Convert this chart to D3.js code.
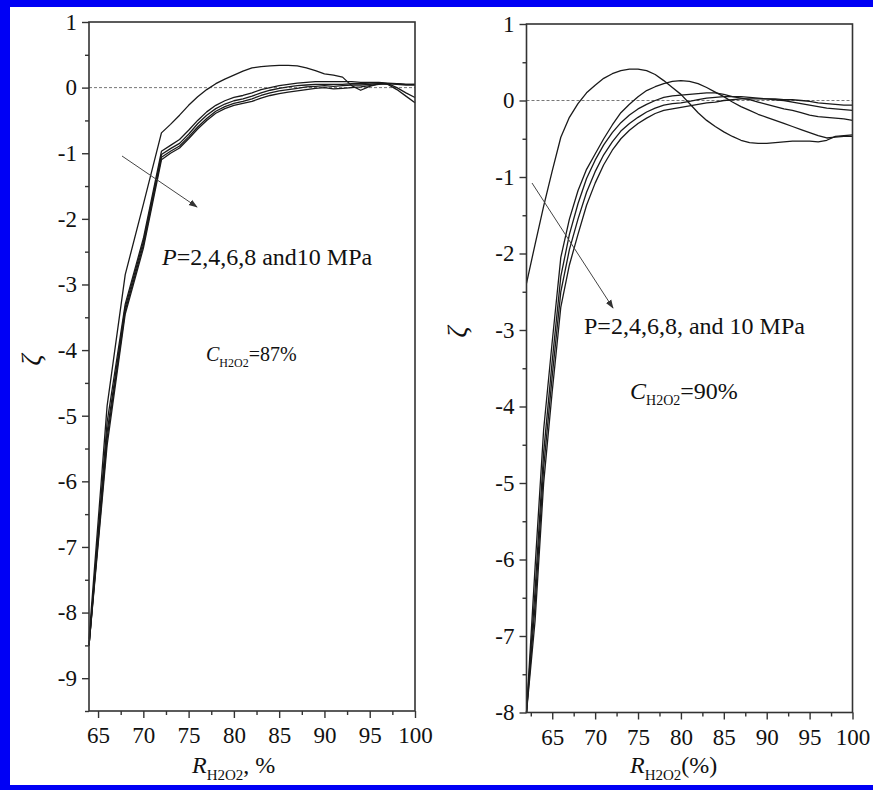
<!DOCTYPE html>
<html>
<head>
<meta charset="utf-8">
<script src="https://cdn.jsdelivr.net/npm/d3@7"></script>
<style>
body{margin:0;background:#fff;}
svg{display:block;}
.tick text{font-family:"Liberation Serif","Times New Roman",serif;font-size:23px;fill:#111;}
.note{font-family:"Liberation Serif","Times New Roman",serif;font-size:24px;fill:#111;}
</style>
</head>
<body>
<div id="chart"></div>
<script>
var W=873, H=790;

// left panel: C_H2O2 = 87 %
var xLeft=[64,66,68,70,72,73,74,75,76,77,78,79,80,81,82,83,84,85,86,87,88,89,90,91,92,93,94,95,96,97,98,99,100];
var left2MPa=[-8.4,-4.85,-2.85,-1.78,-0.69,-0.56,-0.42,-0.27,-0.14,-0.03,0.06,0.13,0.19,0.25,0.3,0.32,0.33,0.34,0.34,0.33,0.3,0.26,0.21,0.19,0.16,0.03,-0.04,0.02,0.06,0.06,0.05,0.04,0.04];
var left4MPa=[-8.5,-5.1,-3.3,-2.3,-0.97,-0.88,-0.79,-0.65,-0.5,-0.37,-0.27,-0.2,-0.15,-0.12,-0.08,-0.03,0.0,0.03,0.05,0.07,0.08,0.09,0.09,0.09,0.09,0.09,0.08,0.08,0.08,0.07,0.06,0.05,0.05];
var left6MPa=[-8.5,-5.25,-3.35,-2.35,-1.02,-0.93,-0.85,-0.71,-0.55,-0.42,-0.32,-0.25,-0.2,-0.17,-0.13,-0.08,-0.04,-0.01,0.01,0.03,0.04,0.05,0.05,0.05,0.05,0.06,0.06,0.07,0.07,0.06,0.0,-0.08,-0.15];
var left8MPa=[-8.5,-5.35,-3.4,-2.4,-1.06,-0.97,-0.89,-0.75,-0.6,-0.47,-0.36,-0.29,-0.24,-0.21,-0.17,-0.12,-0.08,-0.05,-0.03,-0.01,0.01,0.02,0.03,0.02,0.03,0.04,0.04,0.05,0.06,0.05,-0.03,-0.13,-0.23];
var left10MPa=[-8.5,-5.45,-3.45,-2.45,-1.1,-1.0,-0.92,-0.78,-0.63,-0.5,-0.39,-0.32,-0.27,-0.24,-0.21,-0.16,-0.12,-0.09,-0.07,-0.05,-0.03,-0.01,0.0,-0.02,-0.01,0.0,0.01,0.03,0.05,0.06,0.06,0.05,0.05];

// right panel: C_H2O2 = 90 %
var xRight=[62,63,64,65,66,67,68,69,70,71,72,73,74,75,76,77,78,79,80,81,82,83,84,85,86,87,88,89,90,91,92,93,94,95,96,97,98,99,100];
var right2MPa=[-2.39,-1.88,-1.38,-0.92,-0.48,-0.22,-0.04,0.1,0.2,0.29,0.35,0.39,0.41,0.41,0.39,0.34,0.26,0.17,0.08,-0.04,-0.16,-0.26,-0.34,-0.41,-0.47,-0.52,-0.55,-0.56,-0.56,-0.55,-0.54,-0.53,-0.53,-0.53,-0.54,-0.52,-0.47,-0.46,-0.45];
var right4MPa=[-8.0,-6.1,-4.3,-3.15,-2.05,-1.55,-1.18,-0.9,-0.7,-0.5,-0.32,-0.16,-0.05,0.05,0.13,0.18,0.22,0.25,0.26,0.25,0.22,0.17,0.11,0.05,-0.02,-0.08,-0.13,-0.18,-0.22,-0.26,-0.3,-0.34,-0.38,-0.42,-0.46,-0.49,-0.48,-0.47,-0.47];
var right6MPa=[-8.0,-6.4,-4.6,-3.4,-2.3,-1.75,-1.35,-1.02,-0.78,-0.58,-0.42,-0.29,-0.19,-0.11,-0.05,0.0,0.04,0.06,0.07,0.08,0.09,0.1,0.1,0.08,0.05,0.03,0.01,-0.02,-0.05,-0.08,-0.11,-0.13,-0.16,-0.19,-0.21,-0.22,-0.23,-0.24,-0.26];
var right8MPa=[-8.0,-6.6,-4.8,-3.6,-2.5,-1.95,-1.55,-1.2,-0.93,-0.71,-0.54,-0.4,-0.3,-0.22,-0.15,-0.1,-0.06,-0.04,-0.03,-0.01,0.01,0.03,0.04,0.05,0.05,0.05,0.04,0.03,0.02,0.01,0.0,-0.02,-0.04,-0.06,-0.08,-0.1,-0.11,-0.12,-0.13];
var right10MPa=[-8.0,-6.8,-5.0,-3.8,-2.7,-2.15,-1.75,-1.37,-1.08,-0.84,-0.65,-0.5,-0.39,-0.3,-0.23,-0.17,-0.13,-0.11,-0.09,-0.07,-0.05,-0.03,-0.02,0.0,0.01,0.02,0.02,0.02,0.02,0.02,0.01,0.01,0.0,-0.01,-0.03,-0.04,-0.05,-0.06,-0.06];

var xTicksLeft=[65,70,75,80,85,90,95,100];
var xMinorLeft=[67.5,72.5,77.5,82.5,87.5,92.5,97.5];
var yTicksLeft=[1,0,-1,-2,-3,-4,-5,-6,-7,-8,-9];
var yMinorLeft=[0.5,-0.5,-1.5,-2.5,-3.5,-4.5,-5.5,-6.5,-7.5,-8.5,-9.5];
var xTicksRight=[65,70,75,80,85,90,95,100];
var xMinorRight=[62.5,67.5,72.5,77.5,82.5,87.5,92.5,97.5];
var yTicksRight=[1,0,-1,-2,-3,-4,-5,-6,-7,-8];
var yMinorRight=[0.5,-0.5,-1.5,-2.5,-3.5,-4.5,-5.5,-6.5,-7.5];

var svg=d3.select("#chart").append("svg").attr("width",W).attr("height",H);

svg.append("defs").append("marker")
  .attr("id","arr").attr("viewBox","0 0 10 10").attr("refX",9).attr("refY",5)
  .attr("markerWidth",9).attr("markerHeight",9).attr("orient","auto")
  .attr("markerUnits","userSpaceOnUse")
  .append("path").attr("d","M0,1.5 L10,5 L0,8.5 Z").attr("fill","#333");

function drawPanel(p){
  var x=d3.scaleLinear().domain(p.xDom).range([p.x0,p.x1]);
  var y=d3.scaleLinear().domain(p.yDom).range([p.y1,p.y0]);
  var g=svg.append("g");

  // zero reference line
  g.append("line").attr("x1",x(p.xDom[0])).attr("x2",x(p.xDom[1]))
    .attr("y1",y(0)).attr("y2",y(0))
    .attr("stroke","#777").attr("stroke-width",1).attr("stroke-dasharray","3,2");

  var line=d3.line().x(function(d){return x(d[0]);}).y(function(d){return y(d[1]);});
  p.series.forEach(function(s){
    g.append("path").datum(p.xs.map(function(v,i){return [v,s[i]];}))
      .attr("d",line).attr("fill","none").attr("stroke","#1a1a1a")
      .attr("stroke-width",1.3).attr("stroke-linejoin","round");
  });

  // frame
  g.append("rect").attr("x",p.x0).attr("y",p.y0).attr("width",p.x1-p.x0).attr("height",p.y1-p.y0)
    .attr("fill","none").attr("stroke","#333").attr("stroke-width",1.6);

  g.append("g").attr("transform","translate(0,"+p.y1+")")
    .call(d3.axisBottom(x).tickValues(p.xt).tickSize(7).tickPadding(9).tickFormat(d3.format("d")));
  g.append("g").attr("transform","translate(0,"+p.y1+")")
    .call(d3.axisBottom(x).tickValues(p.xm).tickSize(4).tickFormat(""));
  g.append("g").attr("transform","translate("+p.x0+",0)")
    .call(d3.axisLeft(y).tickValues(p.yt).tickSize(7).tickPadding(5).tickFormat(function(d){return d<0?"-"+(-d):d;}));
  g.append("g").attr("transform","translate("+p.x0+",0)")
    .call(d3.axisLeft(y).tickValues(p.ym).tickSize(4).tickFormat(""));
  g.selectAll(".domain").remove();
  g.selectAll(".tick line").attr("stroke","#333").attr("stroke-width",1.4);

  // arrow
  g.append("line").attr("x1",p.arrow[0]).attr("y1",p.arrow[1]).attr("x2",p.arrow[2]).attr("y2",p.arrow[3])
    .attr("stroke","#444").attr("stroke-width",1).attr("marker-end","url(#arr)");

  // pressure note
  var t=g.append("text").attr("class","note").attr("x",p.pPos[0]).attr("y",p.pPos[1]);
  if(p.italicP){
    t.append("tspan").attr("font-style","italic").text("P");
    t.append("tspan").text(p.pText);
  } else t.text("P"+p.pText);

  // concentration note
  var c=g.append("text").attr("class","note").style("font-size",p.cSize+"px").attr("x",p.cPos[0]).attr("y",p.cPos[1]);
  c.append("tspan").attr("font-style","italic").text("C");
  c.append("tspan").style("font-size",Math.round(p.cSize*0.6)+"px").attr("dy",6).text("H2O2");
  c.append("tspan").attr("dy",-6).text(p.cText);

  // y label
  g.append("text").attr("class","note").attr("font-style","italic").style("font-size","28px")
    .attr("text-anchor","middle")
    .attr("transform","translate("+p.yLab[0]+","+p.yLab[1]+") rotate(-90)")
    .text("ζ");

  // x label
  var xl=g.append("text").attr("class","note").attr("x",p.xLab[0]).attr("y",p.xLab[1]);
  xl.append("tspan").attr("font-style","italic").text("R");
  xl.append("tspan").style("font-size","15px").attr("dy",7).text("H2O2");
  xl.append("tspan").attr("dy",-7).text(p.xLabTail);
}

drawPanel({
  xDom:[64,100], yDom:[-9.5,1], x0:89, x1:415, y0:22, y1:711,
  xs:xLeft, series:[left2MPa,left4MPa,left6MPa,left8MPa,left10MPa],
  xt:xTicksLeft, xm:xMinorLeft, yt:yTicksLeft, ym:yMinorLeft,
  arrow:[122,156,197,207],
  pPos:[162,265], italicP:true, pText:"=2,4,6,8 and10 MPa",
  cPos:[206,361], cSize:20, cText:"=87%",
  yLab:[40,360], xLab:[192,773], xLabTail:", %"
});

drawPanel({
  xDom:[62,100], yDom:[-8,1], x0:526.5, x1:852.5, y0:24, y1:712.5,
  xs:xRight, series:[right2MPa,right4MPa,right6MPa,right8MPa,right10MPa],
  xt:xTicksRight, xm:xMinorRight, yt:yTicksRight, ym:yMinorRight,
  arrow:[532,183,613,308],
  pPos:[584,334], italicP:false, pText:"=2,4,6,8, and 10 MPa",
  cPos:[630,399], cSize:24, cText:"=90%",
  yLab:[466,332], xLab:[630,773], xLabTail:"(%)"
});

// blue frame of the figure
svg.append("rect").attr("x",0).attr("y",0).attr("width",W).attr("height",7).attr("fill","#0000f5");
svg.append("rect").attr("x",0).attr("y",0).attr("width",10).attr("height",H).attr("fill","#0000f5");
svg.append("rect").attr("x",0).attr("y",H-5).attr("width",W).attr("height",5).attr("fill","#0000f5");
</script>
</body>
</html>
